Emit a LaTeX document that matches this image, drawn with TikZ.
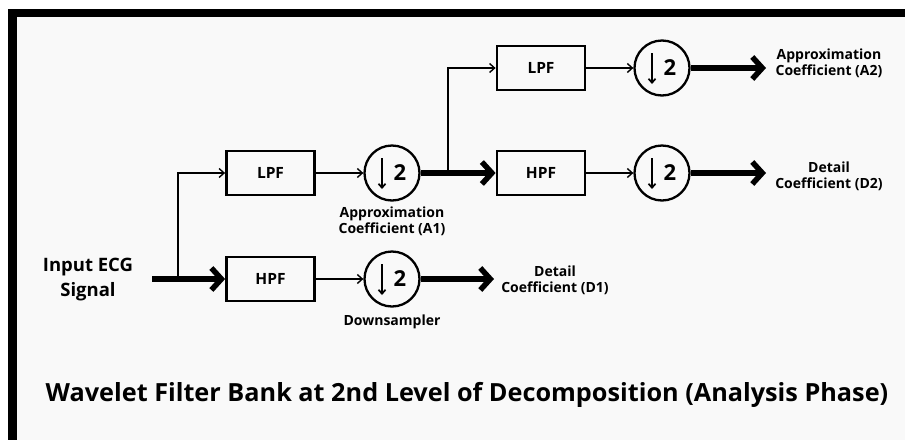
\documentclass[tikz,border=0pt]{standalone}
\usepackage{fontspec}
\setmainfont{Open Sans}
\usetikzlibrary{arrows.meta}
\definecolor{bgin}{HTML}{F9F9F9}
\begin{document}
\begin{tikzpicture}[x=1pt,y=-1pt,
  filt/.style={draw, line width=2.8pt, minimum width=88pt, minimum height=44pt, inner sep=0pt, font=\fontsize{15.5}{15.5}\selectfont\bfseries},
  dsamp/.style={draw, circle, line width=2.3pt, minimum size=55pt, inner sep=0pt},
  thinarr/.style={line width=1.4pt, -{Straight Barb[length=5pt,width=9pt]}},
  thickarr/.style={line width=5.5pt, -{Straight Barb[length=10pt,width=22pt]}},
  lbl/.style={font=\fontsize{14}{16}\selectfont\bfseries, align=center},
]
\useasboundingbox (0,0) rectangle (905,440);
\fill[white] (0,0) rectangle (905,440);
\fill[bgin] (12,13) rectangle (905,440);
\fill[black] (8,9) rectangle (905,17);
\fill[black] (8,9) rectangle (17,440);

\node[font=\fontsize{18.5}{25}\selectfont\bfseries, align=center] (inp) at (88,280) {Input ECG\\Signal};
\node[filt] (lpf1) at (270.5,173) {LPF};
\node[filt] (hpf1) at (270.5,279) {HPF};
\node[dsamp] (ds1) at (392,173) {};
\node[dsamp] (ds2) at (392,279) {};
\node[filt] (lpf2) at (541,68) {LPF};
\node[filt] (hpf2) at (541,173) {HPF};
\node[dsamp] (ds3) at (662,68) {};
\node[dsamp] (ds4) at (662,173) {};

\foreach \d in {ds1,ds2,ds3,ds4}{
  \draw[line width=1.7pt, -{Straight Barb[length=4pt,width=7pt]}] ([xshift=-10pt,yshift=15pt]\d.center) -- ([xshift=-10pt,yshift=-16pt]\d.center);
  \node[font=\fontsize{22}{22}\selectfont\bfseries] (\d-two) at ([xshift=8pt]\d.center) {2};
}

\coordinate (in0) at (152,279);
\coordinate (br1) at (178,279);
\draw[thickarr] (in0) -- (hpf1.west);
\draw[thinarr] (br1) |- (lpf1.west);
\draw[thinarr] (lpf1) -- (ds1);
\draw[thinarr] (hpf1) -- (ds2);
\draw[thickarr] (ds1) -- (hpf2);
\coordinate (br2) at (448,173);
\draw[thinarr] (br2) |- (lpf2.west);
\draw[thinarr] (lpf2) -- (ds3);
\draw[thinarr] (hpf2) -- (ds4);
\coordinate (d1e) at (494,279);
\draw[thickarr] (ds2) -- (d1e);
\coordinate (a2e) at (766,68);
\draw[thickarr] (ds3) -- (a2e);
\coordinate (d2e) at (766,173);
\draw[thickarr] (ds4) -- (d2e);

\node[lbl] (la1) at (392,221) {Approximation\\Coefficient (A1)};
\node[lbl] (ldn) at (392,322) {Downsampler};
\node[lbl] (ld1) at (555,280) {Detail\\Coefficient (D1)};
\node[lbl] (la2) at (829,63) {Approximation\\Coefficient (A2)};
\node[lbl] (ld2) at (829,176) {Detail\\Coefficient (D2)};

\node[font=\fontsize{25}{25}\selectfont\bfseries] (title) at (467,395) {\scalebox{1.01}[1]{Wavelet Filter Bank at 2nd Level of Decomposition (Analysis Phase)}};
\end{tikzpicture}
\end{document}
